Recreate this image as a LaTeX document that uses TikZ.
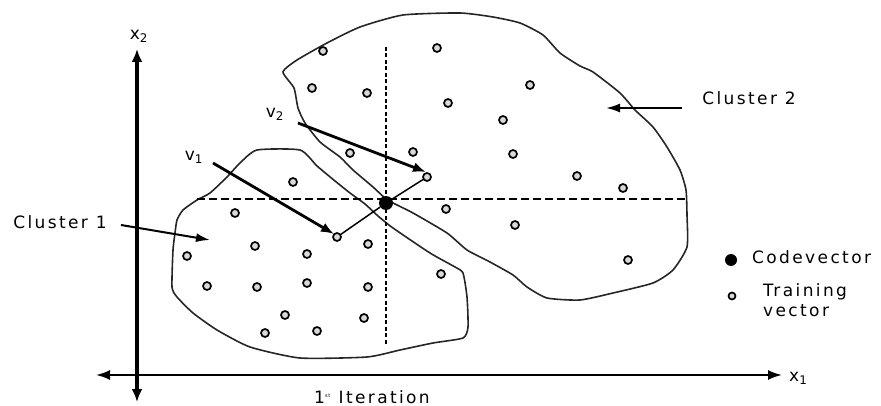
\documentclass[tikz,border=0pt]{standalone}
\usepackage{fontspec}
\setmainfont{DejaVu Sans}[LetterSpace=14.0]
\usetikzlibrary{arrows.meta}
\begin{document}
\begin{tikzpicture}[x=1pt,y=-1pt,
  tv/.style={circle,draw=black,fill=black!15,line width=1.7pt,inner sep=0pt,minimum size=8pt},
  bnd/.style={line width=1.6pt,black!85},
  lbl/.style={font=\fontsize{17}{19}\selectfont,inner sep=0pt},
  thickarrow/.style={line width=2.8pt,-{Latex[length=13pt,width=10pt]}},
  thinarrow/.style={line width=2pt,-{Latex[length=14pt,width=9pt]}},
  dsh/.style={line width=2.8pt,dash pattern=on 8pt off 4pt}
]
\useasboundingbox (0,0) rectangle (881,406);

% axes
\coordinate (ytop) at (137,49);
\coordinate (ybot) at (137,402);
\coordinate (xl) at (96,375);
\coordinate (xr) at (782,375);
\draw[line width=3.4pt,{Latex[length=13pt,width=11pt]}-{Latex[length=13pt,width=11pt]}] (ybot) -- (ytop);
\draw[line width=2pt,{Latex[length=14pt,width=10pt]}-{Latex[length=14pt,width=10pt]}] (xl) -- (xr);
\node[lbl] (x2) at (139,36) {x\textsubscript{2}};
\node[lbl,anchor=west] (x1) at (789,378) {x\textsubscript{1}};
\node[lbl] (iter) at (372,397) {1\textsuperscript{\tiny st} Iteration};

% cluster 2 boundary
\draw[bnd] plot[smooth cycle,tension=0.35] coordinates {
 (386,199) (373,187) (353,170) (340,157) (320,142) (305,123) (298,108) (294,88) (283,72)
 (297,60) (327,43) (360,27) (403,15) (460,13) (493,17) (520,23) (543,35) (560,53) (580,66)
 (593,72) (620,93) (635,110) (653,127) (667,147) (680,170) (686,190) (687,215) (687,247)
 (673,270) (653,283) (613,293) (580,300) (547,298) (527,287) (513,275) (490,262) (467,250)
 (447,233) (413,213) (395,204)};

% cluster 1 boundary
\draw[bnd] plot[smooth cycle,tension=0.35] coordinates {
 (300,150) (257,150) (240,163) (227,177) (210,193) (197,200) (183,210) (177,220) (175,233)
 (173,250) (172,287) (177,297) (193,313) (217,330) (250,347) (300,358) (367,357) (400,350)
 (433,343) (463,338) (468,327) (467,297) (463,273) (455,267) (430,253) (393,228) (378,216)
 (365,204) (350,193) (335,181) (317,166)};

% dashed partition lines
\coordinate (hdl) at (197,199);
\coordinate (hdr) at (686,199);
\coordinate (vdt) at (386,47);
\coordinate (vdb) at (386,344);
\draw[dsh] (hdl) -- (hdr);
\draw[line width=2pt,dash pattern=on 4pt off 2.5pt] (vdt) -- (vdb);

% split line through codevector
\node[tv] (t1e) at (337,237) {};
\node[tv] (t2e) at (427,177) {};
\node[circle,fill=black,inner sep=0pt,minimum size=14pt] (cv) at (386,203) {};
\draw[line width=1.5pt] (t1e) -- (cv) -- (t2e);

% training vectors cluster 2
\foreach \n/\p in {a/{(323,51)},b/{(437,48)},c/{(312,88)},d/{(367,93)},e/{(530,85)},
  f/{(448,103)},g/{(503,120)},h/{(413,152)},i/{(350,153)},j/{(513,154)},k/{(577,176)},
  l/{(623,188)},m/{(446,209)},n/{(515,225)},o/{(628,260)},p/{(441,274)}}
  \node[tv] (tb\n) at \p {};
% training vectors cluster 1
\foreach \n/\p in {a/{(293,182)},b/{(235,213)},c/{(255,246)},d/{(307,254)},e/{(368,244)},
  f/{(187,256)},g/{(207,286)},h/{(257,287)},i/{(307,283)},j/{(368,287)},k/{(285,315)},
  l/{(364,318)},m/{(265,333)},n/{(317,331)}}
  \node[tv] (ta\n) at \p {};

% v1, v2 arrows
\node[lbl] (v1) at (194,157) {v\textsubscript{1}};
\node[lbl] (v2) at (275,114) {v\textsubscript{2}};
\coordinate (v1s) at (213,163);
\coordinate (v1e) at (334,234);
\coordinate (v2s) at (298,123);
\coordinate (v2e) at (426,172);
\draw[thickarrow] (v1s) -- (v1e);
\draw[thickarrow] (v2s) -- (v2e);

% cluster labels
\node[lbl] (c1) at (60,222) {Cluster 1};
\node[lbl] (c2) at (749,98) {Cluster 2};
\coordinate (c1e) at (210,240);
\coordinate (c2e) at (606,108);
\draw[thinarrow] (121,225) -- (c1e);
\draw[thinarrow] (682,108) -- (c2e);

% legend
\node[circle,fill=black,inner sep=0pt,minimum size=12pt] (lcv) at (731,260) {};
\node[lbl,anchor=west] (lcvt) at (752,257) {Codevector};
\node[tv,minimum size=7pt] (ltv) at (732,296) {};
\node[lbl,anchor=west,align=left,font=\fontsize{17}{20}\selectfont] (ltvt) at (763,300) {Training\\ vector};
\end{tikzpicture}
\end{document}
